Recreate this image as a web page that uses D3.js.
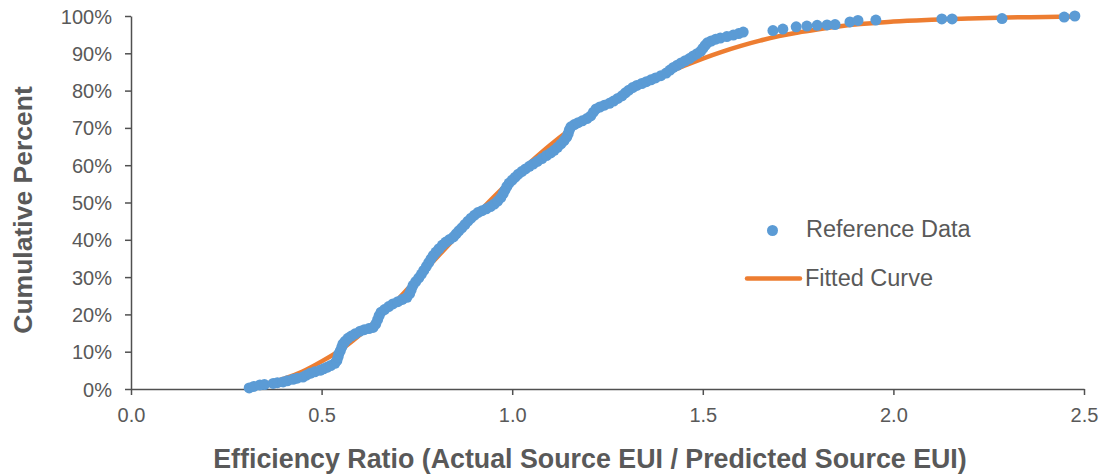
<!DOCTYPE html>
<html>
<head>
<meta charset="utf-8">
<script src="https://cdn.jsdelivr.net/npm/d3@7"></script>
<style>
  body { margin: 0; background: #fff; }
  svg { display: block; font-family: "Liberation Sans", Arial, sans-serif; }
</style>
</head>
<body>
<svg id="chart" width="1102" height="476"></svg>
<script>
// reference data: efficiency ratio and cumulative percent
var refX = [
  0.310, 0.322, 0.338, 0.350, 0.373, 0.384, 0.399, 0.410, 0.425, 0.436,
  0.451, 0.460, 0.470, 0.482, 0.496, 0.505, 0.514, 0.524, 0.535, 0.540,
  0.543, 0.545, 0.549, 0.553, 0.556, 0.562, 0.569, 0.578, 0.588, 0.601,
  0.612, 0.624, 0.635, 0.642, 0.647, 0.651, 0.656, 0.665, 0.676, 0.687,
  0.700, 0.712, 0.724, 0.731, 0.735, 0.740, 0.747, 0.755, 0.762, 0.768,
  0.775, 0.781, 0.787, 0.793, 0.800, 0.808, 0.817, 0.826, 0.836, 0.846,
  0.853, 0.860, 0.868, 0.876, 0.884, 0.892, 0.901, 0.910, 0.921, 0.932,
  0.943, 0.953, 0.962, 0.970, 0.976, 0.981, 0.986, 0.992, 1.000, 1.008,
  1.016, 1.025, 1.035, 1.045, 1.055, 1.066, 1.078, 1.090, 1.101, 1.110,
  1.119, 1.128, 1.136, 1.143, 1.147, 1.150, 1.154, 1.163, 1.173, 1.184,
  1.196, 1.206, 1.213, 1.220, 1.230, 1.242, 1.255, 1.266, 1.277, 1.288,
  1.297, 1.306, 1.316, 1.327, 1.340, 1.352, 1.364, 1.376, 1.390, 1.404,
  1.414, 1.423, 1.433, 1.443, 1.454, 1.465, 1.475, 1.485, 1.494, 1.500,
  1.506, 1.512, 1.522, 1.534, 1.546, 1.563, 1.580, 1.594, 1.606,
  1.684, 1.710, 1.745, 1.773, 1.800, 1.826, 1.847, 1.886, 1.907, 1.954,
  2.127, 2.154, 2.285, 2.448, 2.476
]
var refPct = [
  0.3, 0.7, 1.1, 1.2, 1.5, 1.7, 1.9, 2.2, 2.6, 2.9,
  3.2, 3.7, 4.2, 4.6, 5.0, 5.4, 5.8, 6.3, 6.9, 7.6,
  8.5, 9.4, 10.2, 11.2, 12.1, 12.8, 13.6, 14.2, 14.8, 15.5,
  15.9, 16.2, 16.5, 17.4, 18.6, 19.7, 20.6, 21.3, 22.1, 22.8,
  23.4, 24.0, 24.6, 25.6, 26.6, 27.8, 28.8, 29.8, 30.8, 31.8,
  32.9, 33.9, 34.9, 35.8, 36.7, 37.6, 38.6, 39.4, 40.1, 40.8,
  41.6, 42.4, 43.2, 44.1, 45.0, 45.8, 46.6, 47.3, 47.8, 48.3,
  48.9, 49.6, 50.4, 51.3, 52.3, 53.3, 54.3, 55.2, 56.0, 56.8,
  57.6, 58.3, 59.0, 59.7, 60.3, 61.0, 61.8, 62.6, 63.3, 64.0,
  64.8, 65.7, 66.6, 67.5, 68.5, 69.5, 70.3, 70.9, 71.4, 71.9,
  72.5, 73.2, 74.2, 75.1, 75.6, 76.1, 76.6, 77.2, 77.9, 78.6,
  79.4, 80.1, 80.8, 81.4, 81.9, 82.4, 82.9, 83.4, 84.0, 84.7,
  85.5, 86.2, 86.8, 87.4, 88.0, 88.6, 89.3, 89.9, 90.5, 91.3,
  92.1, 92.8, 93.3, 93.8, 94.1, 94.5, 94.9, 95.3, 95.7,
  96.1, 96.5, 97.1, 97.3, 97.5, 97.6, 97.7, 98.4, 98.8, 98.9,
  99.2, 99.2, 99.3, 99.7, 100.0
]

// fitted curve
var fitX = [
  0.31, 0.35, 0.40, 0.45, 0.50, 0.55, 0.60, 0.65, 0.70, 0.75,
  0.80, 0.85, 0.90, 0.95, 1.00, 1.05, 1.10, 1.15, 1.20, 1.25,
  1.30, 1.35, 1.40, 1.45, 1.50, 1.55, 1.60, 1.65, 1.70, 1.75,
  1.80, 1.85, 1.90, 1.95, 2.00, 2.10, 2.20, 2.30, 2.40, 2.47
]
var fitPct = [
  0.5, 1.3, 2.7, 4.7, 7.4, 10.5, 14.5, 19.0, 24.0, 29.5,
  35.0, 40.5, 46.0, 51.3, 56.3, 61.0, 65.4, 69.4, 73.0, 76.3,
  79.3, 82.0, 84.4, 86.6, 88.6, 90.4, 92.0, 93.4, 94.6, 95.6,
  96.4, 97.1, 97.7, 98.1, 98.5, 99.0, 99.35, 99.6, 99.75, 99.85
]

var xTicks = [0, 0.5, 1.0, 1.5, 2.0, 2.5]
var yTicks = [0, 0.1, 0.2, 0.3, 0.4, 0.5, 0.6, 0.7, 0.8, 0.9, 1.0]

var blue = '#5B9BD5'
var orange = '#ED7D31'
var gray = '#595959'

var svg = d3.select('#chart')
var margin = {top: 16, right: 18, bottom: 87, left: 131}
var width = 1102 - margin.left - margin.right
var height = 476 - margin.top - margin.bottom

var x = d3.scaleLinear().domain([0, 2.5]).range([margin.left, margin.left + width])
var y = d3.scaleLinear().domain([0, 1]).range([margin.top + height, margin.top])

// fitted curve first, dots sit on top
var fit = fitX.map((d, i) => [d, fitPct[i] / 100])
svg.append('path')
  .datum(fit)
  .attr('fill', 'none')
  .attr('stroke', orange)
  .attr('stroke-width', 4.5)
  .attr('stroke-linecap', 'round')
  .attr('stroke-linejoin', 'round')
  .attr('d', d3.line().x((d) => x(d[0])).y((d) => y(d[1])).curve(d3.curveMonotoneX))

// axes
var xAxis = svg.append('g')
  .attr('transform', 'translate(0,' + y(0) + ')')
  .call(d3.axisBottom(x).tickValues(xTicks).tickFormat(d3.format('.1f')).tickSize(6).tickSizeOuter(0))
var yAxis = svg.append('g')
  .attr('transform', 'translate(' + x(0) + ',0)')
  .call(d3.axisLeft(y).tickValues(yTicks).tickFormat(d3.format('.0%')).tickSize(6).tickSizeOuter(0))

svg.selectAll('.domain, .tick line').attr('stroke', '#505050').attr('stroke-width', 1.5)
svg.selectAll('.tick text')
  .attr('fill', gray)
  .style('font-size', '20px')
  .style('font-family', '"Liberation Sans", Arial, sans-serif')
xAxis.selectAll('.tick text').attr('dy', null).attr('y', 33)
yAxis.selectAll('.tick text').attr('x', -19).attr('dy', '0.35em')

// reference points
var pts = refX.map((d, i) => [d, refPct[i] / 100])
svg.append('g')
  .selectAll('circle')
  .data(pts)
  .enter()
  .append('circle')
  .attr('cx', (d) => x(d[0]))
  .attr('cy', (d) => y(d[1]))
  .attr('r', 5.5)
  .attr('fill', blue)

// axis titles
svg.append('text')
  .attr('x', 590)
  .attr('y', 468)
  .attr('text-anchor', 'middle')
  .attr('fill', gray)
  .style('font-size', '26.8px')
  .style('font-weight', 'bold')
  .text('Efficiency Ratio (Actual Source EUI / Predicted Source EUI)')

svg.append('text')
  .attr('transform', 'translate(32,210) rotate(-90)')
  .attr('text-anchor', 'middle')
  .attr('fill', gray)
  .style('font-size', '26.5px')
  .style('font-weight', 'bold')
  .text('Cumulative Percent')

// legend
var legend = svg.append('g')
legend.append('circle')
  .attr('cx', 772.5)
  .attr('cy', 230.5)
  .attr('r', 5.5)
  .attr('fill', blue)
legend.append('text')
  .attr('x', 806)
  .attr('y', 237)
  .attr('fill', gray)
  .style('font-size', '23.5px')
  .text('Reference Data')
legend.append('line')
  .attr('x1', 747).attr('x2', 800)
  .attr('y1', 278.5).attr('y2', 278.5)
  .attr('stroke', orange)
  .attr('stroke-width', 4.5)
  .attr('stroke-linecap', 'round')
legend.append('text')
  .attr('x', 805)
  .attr('y', 286)
  .attr('fill', gray)
  .style('font-size', '23.5px')
  .text('Fitted Curve')
</script>
</body>
</html>
